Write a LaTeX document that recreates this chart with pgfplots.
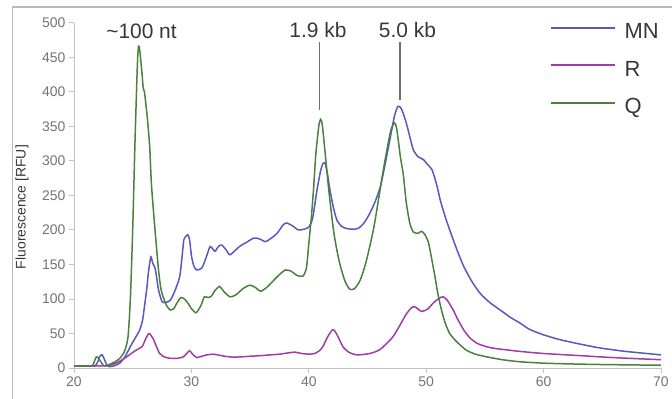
\documentclass[border=0pt]{standalone}
\usepackage{fontspec}
\setmainfont{Liberation Sans}
\usepackage{pgfplots}
\pgfplotsset{compat=1.18}
\definecolor{cMN}{RGB}{88,88,190}
\definecolor{cR}{RGB}{160,60,165}
\definecolor{cQ}{RGB}{72,130,60}
\definecolor{axgray}{RGB}{195,195,195}
\definecolor{tickgray}{RGB}{115,115,115}
\definecolor{txtgray}{RGB}{55,55,55}
\begin{document}
\begin{tikzpicture}
\useasboundingbox (0,0) rectangle (672bp,399bp);
\draw[gray!55, line width=1.6bp] (12.5bp,-2bp) |- (674bp,392bp);
\begin{axis}[
  at={(74bp,31bp)}, anchor=south west,
  scale only axis, width=587bp, height=345.3bp,
  xmin=20, xmax=70, ymin=0, ymax=500,
  xtick={20,30,...,70}, ytick={0,50,...,500},
  axis x line*=bottom, axis y line*=left,
  axis line style={axgray, line width=0.8bp, -},
  tick align=outside, major tick length=5bp,
  tick style={axgray, line width=0.8bp},
  x tick label style={font=\fontsize{14}{16}\selectfont, text=tickgray},
  y tick label style={font=\fontsize{14}{16}\selectfont, text=tickgray},
  /pgf/number format/assume math mode=true,
  ylabel={Fluorescence [RFU]},
  ylabel style={font=\fontsize{14}{16}\selectfont, text=txtgray, at={(-0.0886,0.466)}, anchor=center},
  clip=false,
  legend style={at={(0.805,1.01)}, anchor=north west, draw=none, fill=none,
    font=\fontsize{22}{24}\selectfont, text=txtgray, row sep=17bp},
  legend cell align=left,
  legend image code/.code={\draw[#1, line width=2.4bp] (0bp,4bp) -- (64bp,4bp); \path (71bp,4bp);},
  every axis plot/.append style={line width=1.5bp, smooth, tension=0.4},
]
\addplot[cMN] coordinates {
(20,3) (21.6,3) (21.8,3) (22.0,8) (22.2,17) (22.4,19) (22.6,12) (22.8,4) (23.0,2) (23.4,3) (23.9,7) (24.3,15) (24.8,31) (25.2,43) (25.6,55) (25.85,70) (26.0,89) (26.2,115) (26.35,140) (26.55,161) (26.7,152) (26.9,145) (27.05,130) (27.2,113) (27.5,96) (27.8,95) (28.2,98) (28.6,112) (29.0,132) (29.2,160) (29.35,185) (29.5,190) (29.7,193) (29.85,185) (30.0,163) (30.2,148) (30.45,142) (30.9,145) (31.3,162) (31.6,176) (32.0,169) (32.3,176) (32.6,178) (33.0,170) (33.3,164) (34.1,176) (34.7,182) (35.3,188) (35.8,187) (36.3,183) (36.8,188) (37.3,195) (37.8,207) (38.1,210) (38.6,206) (39.1,200) (39.6,201) (40.0,204) (40.3,215) (40.5,235) (40.7,258) (41.0,285) (41.2,296) (41.4,296) (41.6,280) (41.8,258) (42.1,232) (42.4,214) (42.8,205) (43.2,202) (43.7,201) (44.2,202) (44.7,210) (45.2,224) (45.7,243) (46.1,263) (46.5,295) (46.9,330) (47.3,365) (47.6,379) (47.9,375) (48.3,355) (48.6,335) (48.9,316) (49.3,306) (49.75,302) (50.1,295) (50.5,287) (50.9,265) (51.2,243) (51.6,220) (52.0,200) (52.6,172) (53.2,147) (53.9,125) (54.6,108) (55.4,95) (56.3,84) (57.2,73) (58.0,65) (58.8,56) (60.0,48) (61.4,41) (63,35) (64.8,29) (67,24) (70,19)
};
\addlegendentry{MN}
\addplot[cR] coordinates {
(20,3) (22.8,3) (23.1,4) (23.7,8) (24.3,14) (24.8,20) (25.3,26) (25.8,31) (26.1,42) (26.4,50) (26.75,42) (27.0,32) (27.3,21) (27.7,16) (28.2,14) (28.8,14) (29.3,16) (29.6,21) (29.85,25) (30.1,20) (30.45,15) (30.7,16) (31.3,19) (31.9,20) (32.5,18) (33.3,16) (34.1,16) (35.0,17) (36.0,18) (36.7,19) (37.5,20) (38.3,22) (38.8,23) (39.4,21) (40.0,20) (40.5,21) (40.9,25) (41.2,31) (41.6,45) (42.0,55) (42.2,54) (42.5,45) (42.9,31) (43.4,23) (44.1,19) (45.2,21) (46.0,26) (46.6,35) (47.2,46) (47.8,63) (48.3,78) (48.8,88) (49.1,88) (49.6,82) (50.1,85) (50.6,94) (51.1,101) (51.45,103) (51.8,98) (52.3,84) (52.7,70) (53.2,55) (53.7,44) (54.3,36) (55.1,31) (56.0,28) (58.0,24) (60,21) (63,18) (66,15) (70,12)
};
\addlegendentry{R}
\addplot[cQ] coordinates {
(20,3) (21.5,3) (21.7,8) (21.9,16) (22.1,14) (22.4,6) (22.6,3) (23.0,5) (23.5,9) (23.9,14) (24.3,24) (24.6,45) (24.8,100) (25.0,200) (25.2,330) (25.4,440) (25.5,466) (25.6,460) (25.8,425) (25.9,405) (26.0,400) (26.2,370) (26.3,352) (26.45,320) (26.6,265) (26.9,200) (27.2,142) (27.4,115) (27.6,103) (27.9,90) (28.2,84) (28.5,86) (28.8,95) (29.1,102) (29.4,100) (29.7,94) (30.0,86) (30.4,80) (30.8,90) (31.1,103) (31.4,102) (31.7,104) (32.0,112) (32.4,118) (32.8,110) (33.3,103) (33.8,106) (34.4,115) (35.0,120) (35.5,116) (35.9,111) (36.5,118) (37.3,132) (38.0,142) (38.5,140) (39.0,134) (39.5,133) (39.8,145) (40.0,180) (40.2,215) (40.4,258) (40.6,310) (40.85,350) (41.0,360) (41.15,352) (41.4,310) (41.7,258) (42.1,200) (42.4,170) (42.7,147) (43.1,125) (43.5,114) (43.9,115) (44.4,128) (44.9,155) (45.5,200) (45.9,240) (46.3,282) (46.7,320) (47.0,345) (47.3,355) (47.5,345) (47.8,306) (48.05,280) (48.3,240) (48.6,210) (48.9,197) (49.3,195) (49.6,198) (49.9,193) (50.2,181) (50.5,155) (50.75,132) (51.0,107) (51.3,84) (51.6,66) (52.0,50) (52.6,38) (53.4,26) (54.2,20) (55.2,16) (56.5,12) (58,9) (60,7) (62,6) (65,5) (70,4)
};
\addlegendentry{Q}
\node[anchor=base, text=txtgray, font=\fontsize{21}{24}\selectfont] at (axis cs:25.75,477) {\textasciitilde100 nt};
\node[anchor=base, text=txtgray, font=\fontsize{21}{24}\selectfont] at (axis cs:40.78,478) {1.9 kb};
\node[anchor=base, text=txtgray, font=\fontsize{21}{24}\selectfont] at (axis cs:48.4,478) {5.0 kb};
\draw[gray!85!black, line width=1.4bp] (axis cs:40.9,472) -- (axis cs:40.9,374);
\draw[gray!85!black, line width=1.4bp] (axis cs:47.77,472) -- (axis cs:47.77,388);
\end{axis}
\end{tikzpicture}
\end{document}
